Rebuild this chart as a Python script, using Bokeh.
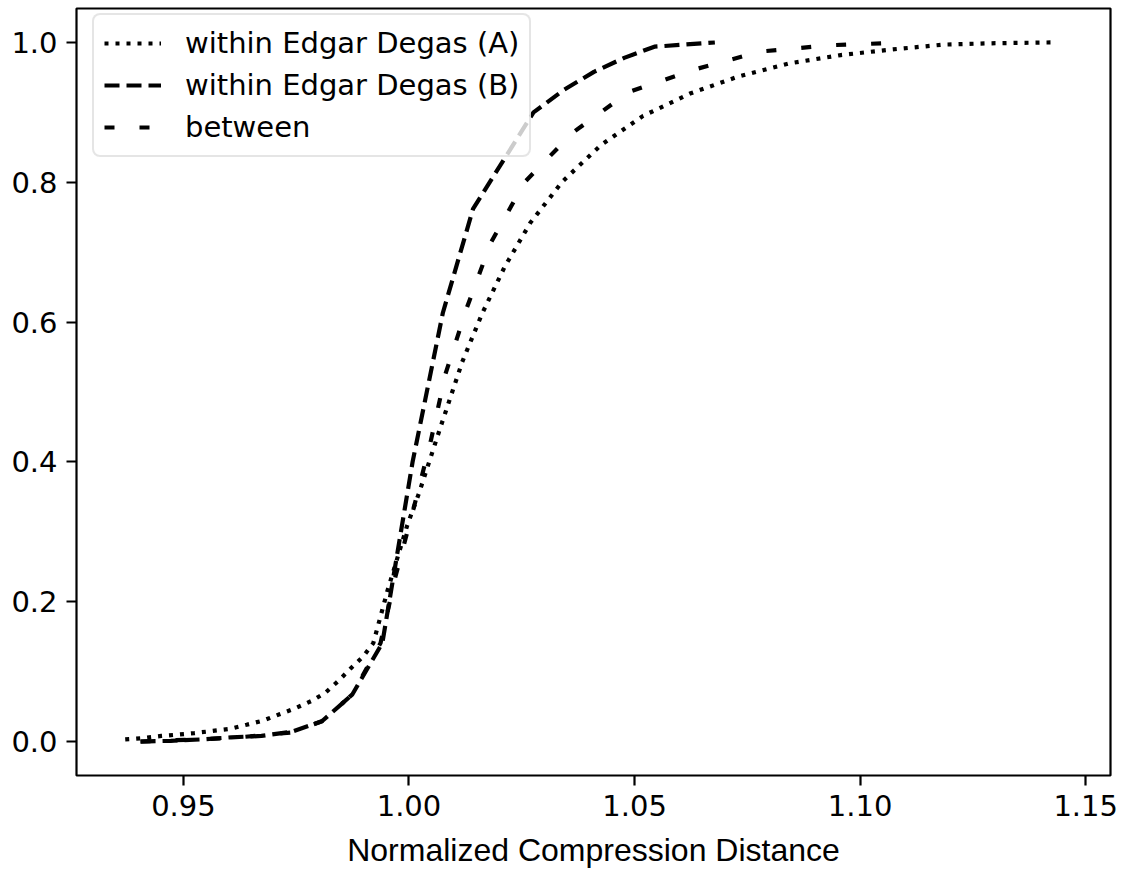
from bokeh.plotting import figure
from bokeh.models import Range1d, FixedTicker, PrintfTickFormatter, Legend, LegendItem
from bokeh.embed import file_html
from bokeh.resources import INLINE

# ---- data ----
a_x = [0.9371, 0.9413, 0.9451, 0.9489, 0.9524, 0.9562, 0.9602, 0.9640, 0.9677, 0.9713,
       0.9746, 0.9784, 0.9815, 0.9844, 0.9870, 0.9899, 0.9921, 0.9952, 0.9996, 1.0022,
       1.0070, 1.0118, 1.0162, 1.0212, 1.0269, 1.0340, 1.0425, 1.0519, 1.0623, 1.0729,
       1.0842, 1.0957, 1.1071, 1.1186, 1.1300, 1.1422]
a_y = [0.003, 0.005, 0.008, 0.010, 0.012, 0.015, 0.018, 0.024, 0.030, 0.039,
       0.047, 0.058, 0.070, 0.087, 0.104, 0.122, 0.141, 0.215, 0.309, 0.355,
       0.450, 0.543, 0.612, 0.679, 0.742, 0.801, 0.853, 0.895, 0.927, 0.951,
       0.970, 0.982, 0.990, 0.997, 0.999, 1.000]

b_x = [0.9405, 0.9472, 0.9539, 0.9606, 0.9673, 0.9740, 0.9807, 0.9874, 0.9941, 1.0008,
       1.0075, 1.0142, 1.0209, 1.0276, 1.0343, 1.0410, 1.0477, 1.0544, 1.0611, 1.0678]
b_y = [0.000, 0.001, 0.003, 0.006, 0.008, 0.014, 0.029, 0.067, 0.141, 0.400,
       0.613, 0.762, 0.831, 0.900, 0.932, 0.958, 0.978, 0.994, 0.997, 1.000]

c_x = [0.9405, 0.9606, 0.9740, 0.9807, 0.9874, 0.9937, 0.9970, 1.0010, 1.0048, 1.0081,
       1.0128, 1.0181, 1.0256, 1.0363, 1.0487, 1.0631, 1.0779, 1.0932, 1.1101]
c_y = [0.000, 0.005, 0.013, 0.029, 0.067, 0.141, 0.236, 0.333, 0.429, 0.526,
       0.620, 0.713, 0.800, 0.871, 0.929, 0.961, 0.987, 0.996, 1.000]

labels = ["within Edgar Degas (A)", "within Edgar Degas (B)", "between"]
x_ticks = [0.95, 1.00, 1.05, 1.10, 1.15]
y_ticks = [0.0, 0.2, 0.4, 0.6, 0.8, 1.0]

# ---- figure ----
p = figure(width=1118, height=870, output_backend="svg", toolbar_location=None,
           x_range=Range1d(0.9263, 1.1555), y_range=Range1d(-0.0486, 1.0486),
           min_border_left=76, min_border_right=8, min_border_top=8, min_border_bottom=94)
p.grid.visible = False
p.background_fill_color = "white"
p.border_fill_color = "white"
p.outline_line_color = "black"
p.outline_line_width = 2.2

LW = 4.2
ra = p.line(a_x, a_y, line_color="black", line_width=LW, line_dash="4 7")
rb = p.line(b_x, b_y, line_color="black", line_width=LW, line_dash="15 7")
rc = p.line(c_x, c_y, line_color="black", line_width=LW, line_dash="10 25")

for ax in (p.xaxis[0], p.yaxis[0]):
    ax.axis_line_color = None
    ax.major_tick_line_color = "black"
    ax.major_tick_line_width = 2.2
    ax.major_tick_out = 10
    ax.major_tick_in = 0
    ax.minor_tick_line_color = None
    ax.major_label_text_font = "DejaVu Sans"
    ax.major_label_text_font_size = "29px"
    ax.major_label_text_color = "black"
    ax.major_label_standoff = 9

p.xaxis.ticker = FixedTicker(ticks=x_ticks)
p.xaxis.formatter = PrintfTickFormatter(format="%.2f")
p.yaxis.ticker = FixedTicker(ticks=y_ticks)
p.yaxis.formatter = PrintfTickFormatter(format="%.1f")

p.xaxis.axis_label = "Normalized Compression Distance"
p.xaxis.axis_label_text_font = "Liberation Sans"
p.xaxis.axis_label_text_font_size = "32px"
p.xaxis.axis_label_text_font_style = "normal"
p.xaxis.axis_label_text_color = "black"
p.xaxis.axis_label_standoff = 13

legend = Legend(items=[LegendItem(label=labels[0], renderers=[ra]),
                       LegendItem(label=labels[1], renderers=[rb]),
                       LegendItem(label=labels[2], renderers=[rc])],
                location=(16, 618), margin=0, padding=10, spacing=6,
                glyph_width=57, glyph_height=36, label_height=36, label_standoff=24,
                label_text_font="DejaVu Sans", label_text_font_size="29px",
                label_text_color="black",
                border_line_color="#cccccc", border_line_width=2.5,
                border_radius=8,
                background_fill_color="white", background_fill_alpha=0.8)
p.add_layout(legend, "center")

open("out.html", "w").write(file_html(p, INLINE))
